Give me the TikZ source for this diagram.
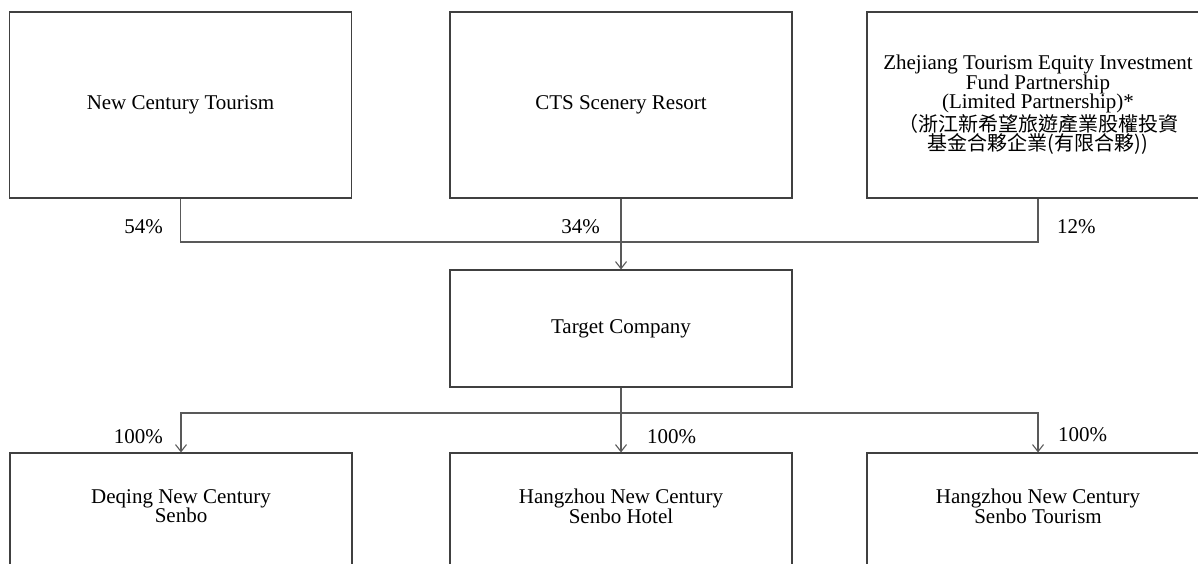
\documentclass[tikz,border=0pt]{standalone}
\usepackage{fontspec}
\setmainfont{Liberation Serif}
\newfontfamily\cjk{Noto Sans CJK TC}
\usepackage{tikz}
\usetikzlibrary{arrows.meta}

\begin{document}
\begin{tikzpicture}[x=1pt, y=1pt,
    entity/.style={draw=black!75, line width=1.1pt, minimum width=342pt, align=center, font=\fontsize{21}{19.5}\selectfont},
    share/.style={font=\fontsize{21}{19.5}\selectfont, inner sep=0pt},
    link/.style={draw=black!65, line width=1.1pt},
    >={Straight Barb[length=7pt, width=11pt]}]
    \useasboundingbox (0,0) rectangle (1198,564);
    \clip (0,0) rectangle (1198,564);

    \node[entity, minimum height=186pt] (nct) at (180.5,459) {New Century Tourism};
    \node[entity, minimum height=186pt] (cts) at (621,459) {CTS Scenery Resort};
    \node[entity, minimum height=186pt] (zjfund) at (1038,459) {Zhejiang Tourism Equity Investment\\Fund Partnership\\(Limited Partnership)*\\{\cjk\fontsize{20}{19.5}\selectfont （浙江新希望旅遊產業股權投資}\\{\cjk\fontsize{20}{19.5}\selectfont 基金合夥企業(有限合夥))}};

    \node[entity, minimum height=117pt] (target) at (621,235.5) {Target Company};

    % boxes run past the lower edge
    \node[entity, minimum height=130pt, text depth=24pt] (deqing) at (181,46) {Deqing New Century\\Senbo};
    \node[entity, minimum height=130pt, text depth=24pt] (hzhotel) at (621,46) {Hangzhou New Century\\Senbo Hotel};
    \node[entity, minimum height=130pt, text depth=24pt] (hztour) at (1038,46) {Hangzhou New Century\\Senbo Tourism};

    \coordinate (topbus) at (621,322);
    \coordinate (botbus) at (621,151);

    \draw[link] (nct.south) |- (topbus) -| (zjfund.south);
    \draw[link, ->] (cts.south) -- (target.north);
    \draw[link] (target.south) -- (botbus);
    \draw[link, ->] (botbus) -| (deqing.north);
    \draw[link, ->] (botbus) -- (hzhotel.north);
    \draw[link, ->] (botbus) -| (hztour.north);

    \node[share, anchor=east] (pct54) at (163,337) {54\%};
    \node[share, anchor=east] (pct34) at (600,337) {34\%};
    \node[share, anchor=west] (pct12) at (1057,337) {12\%};
    \node[share, anchor=east] (pctdq) at (163,127) {100\%};
    \node[share, anchor=west] (pcthh) at (647,127) {100\%};
    \node[share, anchor=west] (pctht) at (1058,129) {100\%};
\end{tikzpicture}
\end{document}
